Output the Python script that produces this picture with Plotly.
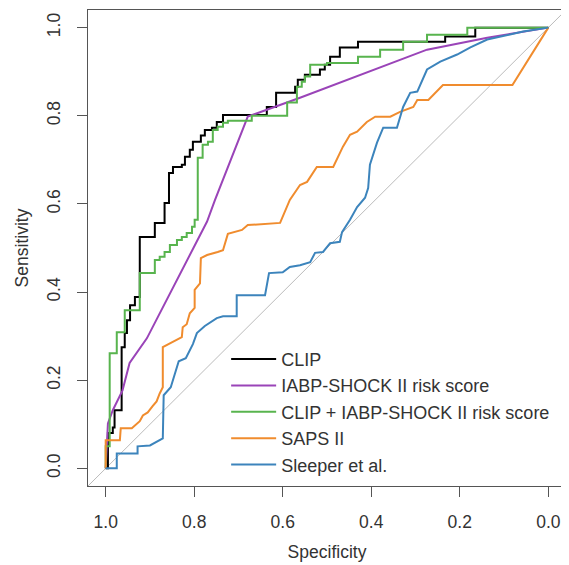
import plotly.graph_objects as go

# ---- data (specificity, sensitivity) ----
clip_spec = [1.0, 0.995, 0.984, 0.980, 0.964, 0.957, 0.952, 0.945, 0.934, 0.923, 0.889, 0.867, 0.857, 0.848,
             0.828, 0.821, 0.810, 0.803, 0.785, 0.776, 0.760, 0.749, 0.735, 0.636, 0.615, 0.572, 0.566, 0.550,
             0.516, 0.505, 0.493, 0.471, 0.430, 0.233, 0.165, 0.0]
clip_sens = [0.0, 0.08, 0.093, 0.132, 0.275, 0.307, 0.336, 0.370, 0.389, 0.525, 0.557, 0.602, 0.670, 0.684,
             0.689, 0.707, 0.723, 0.741, 0.755, 0.768, 0.773, 0.786, 0.802, 0.820, 0.852, 0.866, 0.882, 0.893,
             0.905, 0.916, 0.934, 0.955, 0.968, 0.980, 1.0, 1.0]

iabp_spec = [1.0, 0.995, 0.984, 0.962, 0.946, 0.907, 0.771, 0.753, 0.679, 0.561, 0.274, 0.138, 0.0]
iabp_sens = [0.0, 0.102, 0.132, 0.177, 0.239, 0.295, 0.56, 0.609, 0.798, 0.841, 0.95, 0.977, 1.0]

comb_spec = [1.0, 1.0, 0.991, 0.975, 0.957, 0.923, 0.889, 0.878, 0.867, 0.855, 0.839, 0.828, 0.817, 0.805,
             0.799, 0.792, 0.781, 0.769, 0.758, 0.747, 0.735, 0.724, 0.670, 0.590, 0.568, 0.557, 0.550, 0.538,
             0.500, 0.430, 0.380, 0.328, 0.274, 0.183, 0.0]
comb_sens = [0.0, 0.05, 0.261, 0.309, 0.359, 0.443, 0.473, 0.480, 0.491, 0.507, 0.518, 0.525, 0.534, 0.548,
             0.564, 0.705, 0.734, 0.741, 0.768, 0.775, 0.784, 0.789, 0.800, 0.830, 0.866, 0.877, 0.889, 0.916,
             0.920, 0.934, 0.950, 0.968, 0.984, 1.0, 1.0]

saps_spec = [1.0, 1.0, 0.968, 0.966, 0.941, 0.923, 0.916, 0.905, 0.894, 0.885, 0.878, 0.871, 0.871, 0.855,
             0.828, 0.826, 0.817, 0.810, 0.799, 0.799, 0.787, 0.785, 0.771, 0.747, 0.735, 0.724, 0.708, 0.692,
             0.679, 0.606, 0.584, 0.561, 0.545, 0.523, 0.486, 0.464, 0.448, 0.432, 0.410, 0.391, 0.357, 0.335,
             0.305, 0.296, 0.271, 0.238, 0.081, 0.0]
saps_sens = [0.0, 0.064, 0.064, 0.091, 0.091, 0.107, 0.120, 0.127, 0.141, 0.152, 0.170, 0.184, 0.275, 0.284,
             0.298, 0.320, 0.327, 0.352, 0.364, 0.405, 0.420, 0.477, 0.484, 0.491, 0.495, 0.532, 0.536, 0.541,
             0.552, 0.557, 0.609, 0.643, 0.650, 0.684, 0.684, 0.730, 0.757, 0.764, 0.786, 0.798, 0.798, 0.809,
             0.820, 0.836, 0.836, 0.870, 0.870, 1.0]

sleeper_spec = [1.0, 0.975, 0.975, 0.928, 0.928, 0.900, 0.871, 0.869, 0.853, 0.842, 0.835, 0.819, 0.803, 0.794,
                0.776, 0.749, 0.735, 0.704, 0.704, 0.640, 0.631, 0.600, 0.584, 0.561, 0.538, 0.527, 0.509, 0.493,
                0.471, 0.466, 0.448, 0.432, 0.414, 0.407, 0.403, 0.387, 0.373, 0.342, 0.328, 0.312, 0.296, 0.274,
                0.244, 0.206, 0.176, 0.138, 0.075, 0.057, 0.0]
sleeper_sens = [0.0, 0.0, 0.034, 0.034, 0.05, 0.052, 0.068, 0.166, 0.184, 0.220, 0.243, 0.25, 0.282, 0.307,
                0.323, 0.341, 0.345, 0.345, 0.393, 0.393, 0.443, 0.445, 0.457, 0.461, 0.468, 0.489, 0.491, 0.511,
                0.514, 0.536, 0.564, 0.593, 0.614, 0.636, 0.689, 0.739, 0.773, 0.773, 0.820, 0.852, 0.855, 0.905,
                0.923, 0.939, 0.955, 0.973, 0.986, 0.991, 1.0]

names = ["CLIP", "IABP-SHOCK II risk score", "CLIP + IABP-SHOCK II risk score", "SAPS II", "Sleeper et al."]
colors = ["#000000", "#9A44B8", "#58B44E", "#F08C2E", "#3C84BC"]
tick_vals = [0.0, 0.2, 0.4, 0.6, 0.8, 1.0]
tick_text = ["0.0", "0.2", "0.4", "0.6", "0.8", "1.0"]
axis_range = [-0.04, 1.04]

FONT = "Liberation Sans, Arial, sans-serif"
TXT = "#333333"
AX = "#555555"

fig = go.Figure()

# chance diagonal  (sensitivity = 1 - specificity), spans the whole box
diag_x = [axis_range[1], axis_range[0]]
diag_y = [1 - v for v in diag_x]
fig.add_trace(go.Scatter(x=diag_x, y=diag_y, mode="lines", line=dict(color="#BBBBBB", width=1),
                         showlegend=False, hoverinfo="skip"))

series = [
    (clip_spec, clip_sens, "hv"),
    (iabp_spec, iabp_sens, "linear"),
    (comb_spec, comb_sens, "hv"),
    (saps_spec, saps_sens, "linear"),
    (sleeper_spec, sleeper_sens, "linear"),
]
for i, (sx, sy, shp) in enumerate(series):
    fig.add_trace(go.Scatter(x=sx, y=sy, mode="lines", name=names[i], legendgroup=names[i],
                             line=dict(color=colors[i], width=2, shape=shp)))

axis_common = dict(
    tickvals=tick_vals, ticktext=tick_text, showgrid=False, zeroline=False,
    showline=True, mirror=True, linecolor=AX, linewidth=1,
    ticks="outside", ticklen=10, tickcolor=AX, tickwidth=1,
    tickfont=dict(family=FONT, size=17.5, color=TXT),
)

fig.update_xaxes(**axis_common)
fig.update_yaxes(**axis_common)
fig.update_xaxes(range=[axis_range[1], axis_range[0]], ticklabelstandoff=10,
                 title=dict(text="Specificity", font=dict(family=FONT, size=17.5, color=TXT), standoff=14))
fig.update_yaxes(range=axis_range, tickangle=-90, ticklabelstandoff=10,
                 title=dict(text="Sensitivity", font=dict(family=FONT, size=17.5, color=TXT), standoff=10))

fig.update_layout(
    width=561, height=557,
    margin=dict(l=80, r=3, t=2, b=79, autoexpand=False),
    paper_bgcolor="white", plot_bgcolor="white",
    showlegend=True,
    legend=dict(
        x=0.289, y=0.305, xanchor="left", yanchor="top",
        bgcolor="rgba(0,0,0,0)", borderwidth=0,
        font=dict(family=FONT, size=18, color=TXT),
        itemwidth=45, tracegroupgap=4, traceorder="normal",
    ),
)

fig.write_html("out.html")
